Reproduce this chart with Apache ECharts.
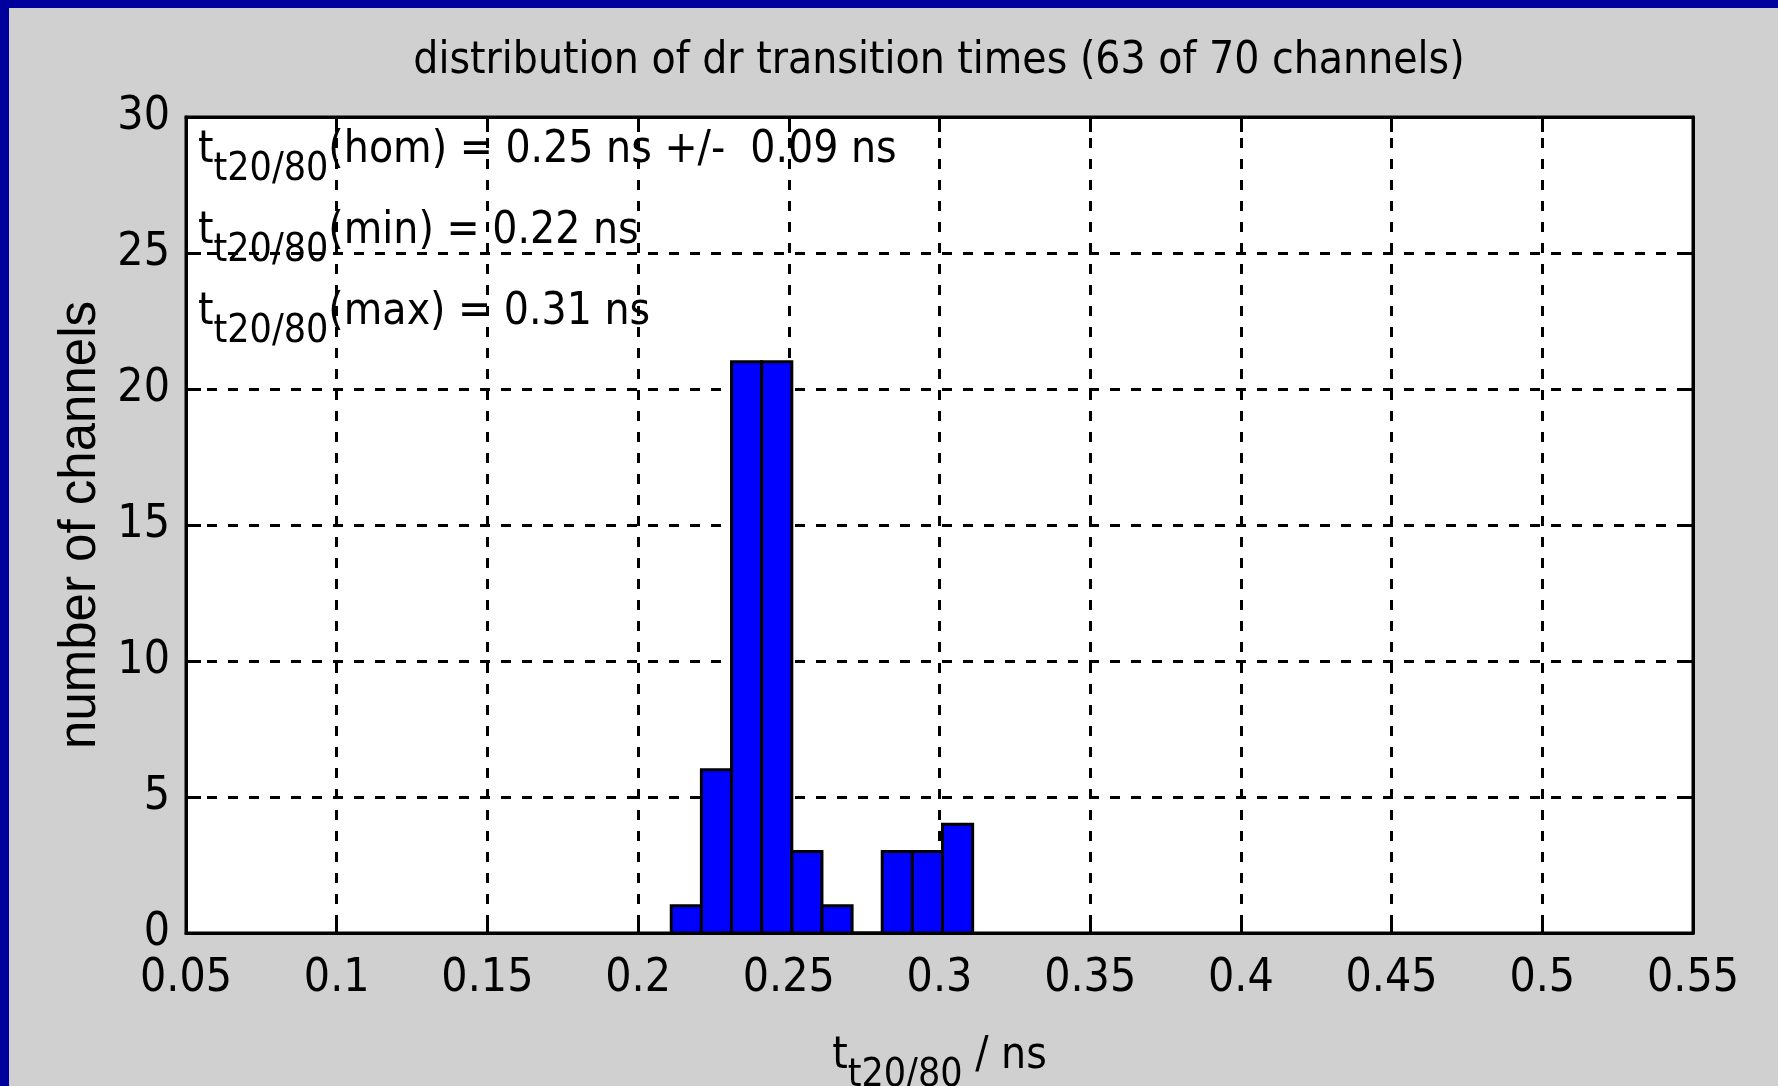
<!DOCTYPE html>
<html>
<head>
<meta charset="utf-8">
<script src="https://cdn.jsdelivr.net/npm/echarts@6/dist/echarts.min.js"></script>
<style>
html,body{margin:0;padding:0;background:#D0D0D0;}
#chart{width:1778px;height:1086px;}
</style>
</head>
<body>
<div id="chart"></div>
<script>
// ---- data ----
const chartTitle = 'distribution of dr transition times (63 of 70 channels)';
const xTickLabels = ['0.05','0.1','0.15','0.2','0.25','0.3','0.35','0.4','0.45','0.5','0.55'];
const yTickLabels = ['0','5','10','15','20','25','30'];
const binEdges = [0.211,0.221,0.231,0.241,0.251,0.261,0.271,0.281,0.291,0.301,0.311];
const binCounts = [1,6,21,21,3,1,0,3,3,4];
const annotationQuantities = ['(hom) = 0.25 ns +/-  0.09 ns', '(min) = 0.22 ns', '(max) = 0.31 ns'];
const yAxisName = 'number of channels';

const xMin = 0.05, xMax = 0.55, xStep = 0.05;
const yMin = 0, yMax = 30, yStep = 5;

const NARROW = "'Liberation Sans Narrow', 'DejaVu Sans Condensed', 'Liberation Sans', sans-serif";
const REG = "'Liberation Sans', Arial, sans-serif";
const TITLE = 44, TICK = 46, MAIN = 44, SUB = 39;

const bins = binCounts.map((c, i) => [binEdges[i], binEdges[i + 1], c]);

const richTS = {
  m: { fontFamily: NARROW, fontSize: MAIN, color: '#000', lineHeight: 30, verticalAlign: 'top' },
  s: { fontFamily: NARROW, fontSize: SUB, color: '#000', lineHeight: 81, verticalAlign: 'middle' }
};

const annText = annotationQuantities.map(q => '{m|t}{s|t20/80}{m|' + q + '}').join('\n');

const chart = echarts.init(document.getElementById('chart'), null, { renderer: 'canvas' });

const gridDash = [10, 11];
function mkXAxis(pos, showLabels) {
  return {
    type: 'value', position: pos, min: xMin, max: xMax, interval: xStep,
    axisLine: { show: true, onZero: false, lineStyle: { color: '#000', width: 3 } },
    axisTick: { show: true, inside: true, length: 15, lineStyle: { color: '#000', width: 3 } },
    axisLabel: {
      show: showLabels, margin: 23, color: '#000', fontFamily: NARROW, fontSize: TICK,
      formatter: v => xTickLabels[Math.round((v - xMin) / xStep)]
    },
    splitLine: { show: showLabels, lineStyle: { color: '#000', width: 3, type: gridDash } }
  };
}
function mkYAxis(pos, showLabels) {
  return {
    type: 'value', position: pos, min: yMin, max: yMax, interval: yStep,
    axisLine: { show: true, onZero: false, lineStyle: { color: '#000', width: 3 } },
    axisTick: { show: true, inside: true, length: 15, lineStyle: { color: '#000', width: 3 } },
    axisLabel: {
      show: showLabels, margin: 16, color: '#000', fontFamily: NARROW, fontSize: TICK,
      formatter: v => yTickLabels[Math.round((v - yMin) / yStep)]
    },
    splitLine: { show: showLabels, lineStyle: { color: '#000', width: 3, type: gridDash } }
  };
}

const xA = mkXAxis('bottom', true);
xA.name = '{m|t}{s|t20/80}{m| / ns}';
xA.nameLocation = 'middle';
xA.nameGap = 102;
xA.nameTextStyle = { rich: richTS };

const yA = mkYAxis('left', true);
yA.name = yAxisName;
yA.nameLocation = 'middle';
yA.nameGap = 57;
yA.nameTextStyle = { fontFamily: REG, fontSize: 51, color: '#000' };

chart.setOption({
  backgroundColor: '#D0D0D0',
  animation: false,
  title: {
    text: chartTitle, left: 934, top: 35, textAlign: 'center',
    textStyle: { fontFamily: NARROW, fontSize: TITLE, fontWeight: 'normal', color: '#000' }
  },
  grid: {
    left: 186, top: 117, width: 1507, height: 816, containLabel: false, outerBoundsMode: 'none',
    show: true, backgroundColor: '#fff', borderColor: '#000', borderWidth: 3
  },
  xAxis: [xA, mkXAxis('top', false)],
  yAxis: [yA, mkYAxis('right', false)],
  graphic: [
    { type: 'rect', left: 0, top: 0, shape: { width: 1778, height: 8 }, style: { fill: '#00009C' }, z: 100 },
    { type: 'rect', left: 0, top: 0, shape: { width: 9, height: 1086 }, style: { fill: '#00009C' }, z: 100 },
    { type: 'text', left: 198, top: 129, z: 50, style: { text: annText, rich: richTS, fill: '#000' } }
  ],
  series: [{
    type: 'custom',
    xAxisIndex: 0, yAxisIndex: 0,
    data: bins,
    encode: { x: [0, 1], y: 2 },
    renderItem: function (params, api) {
      const p0 = api.coord([api.value(0), api.value(2)]);
      const p1 = api.coord([api.value(1), 0]);
      return {
        type: 'rect',
        shape: { x: p0[0], y: p0[1], width: p1[0] - p0[0], height: p1[1] - p0[1] },
        style: { fill: '#0000FF', stroke: '#000', lineWidth: 3 }
      };
    }
  }]
});
</script>
</body>
</html>
